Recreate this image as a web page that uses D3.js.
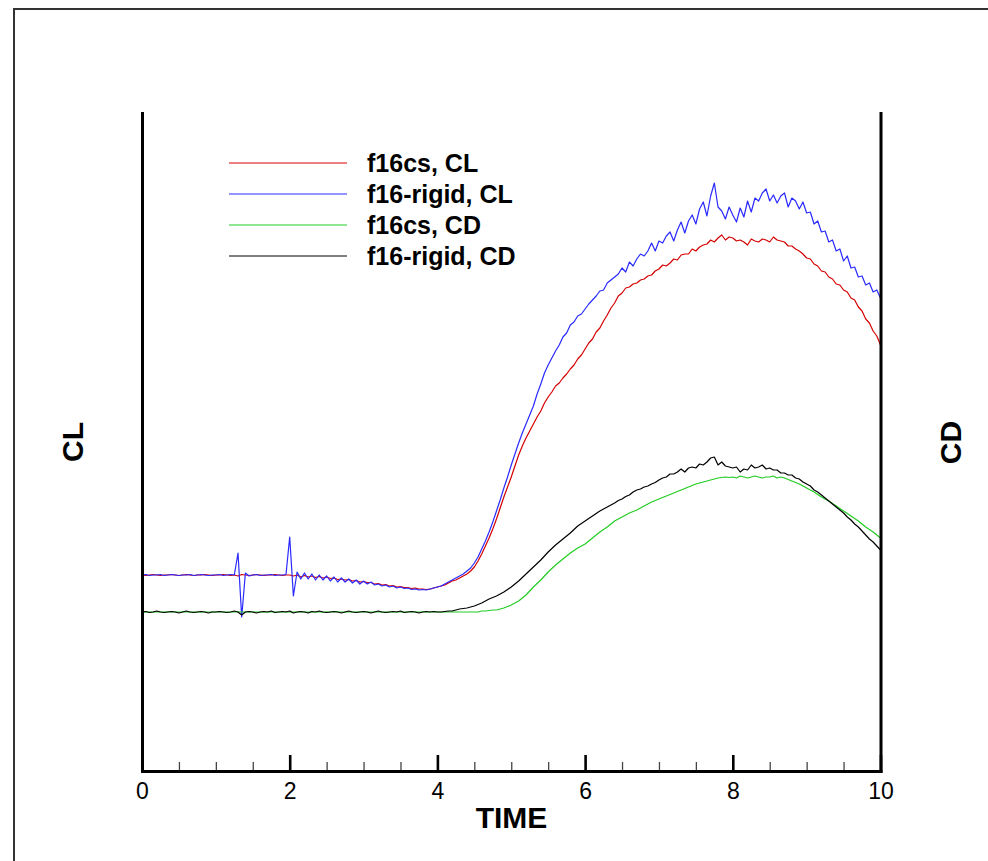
<!DOCTYPE html>
<html><head><meta charset="utf-8">
<script src="https://cdn.jsdelivr.net/npm/d3@7"></script>
<style>
body{margin:0;background:#fff}
svg{display:block}
text{font-family:"Liberation Sans",Arial,Helvetica,sans-serif}
</style>
</head><body>
<svg id="c" width="988" height="861"></svg>
<script>
// ---- data ----
const time = d3.range(201).map(i => +(i * 0.05).toFixed(2)); // TIME samples 0 .. 10
const xMajorTicks = [0, 2, 4, 6, 8, 10];
const xMinorTicks = [0.5, 1, 1.5, 2.5, 3, 3.5, 4.5, 5, 5.5, 6.5, 7, 7.5, 8.5, 9, 9.5];
const seriesNames = ["f16cs, CL", "f16-rigid, CL", "f16cs, CD", "f16-rigid, CD"];

const f16csCL = [
  0.392,0.391,0.392,0.393,0.392,0.391,0.392,0.392,0.393,0.392, 0.391,0.392,0.393,0.392,0.391,0.392,0.392,0.393,0.392,0.391,
  0.392,0.392,0.393,0.392,0.391,0.392,0.390,0.393,0.392,0.391, 0.392,0.393,0.392,0.391,0.392,0.392,0.393,0.392,0.391,0.392,
  0.392,0.390,0.392,0.388,0.391,0.388,0.390,0.387,0.389,0.386, 0.388,0.385,0.386,0.383,0.384,0.382,0.383,0.380,0.381,0.378,
  0.379,0.377,0.377,0.374,0.375,0.372,0.373,0.370,0.371,0.368, 0.369,0.367,0.367,0.365,0.366,0.364,0.364,0.363,0.364,0.366,
  0.368,0.370,0.372,0.376,0.380,0.382,0.386,0.390,0.394,0.400, 0.408,0.420,0.434,0.450,0.466,0.484,0.504,0.526,0.548,0.568,
  0.588,0.610,0.632,0.650,0.666,0.680,0.694,0.708,0.720,0.736, 0.748,0.758,0.770,0.776,0.786,0.794,0.804,0.812,0.824,0.832,
  0.844,0.856,0.864,0.878,0.886,0.900,0.912,0.926,0.936,0.950, 0.956,0.966,0.968,0.974,0.976,0.982,0.984,0.990,0.992,1.000,
  1.004,1.012,1.010,1.016,1.024,1.022,1.032,1.034,1.034,1.044, 1.040,1.048,1.052,1.054,1.062,1.058,1.066,1.072,1.062,1.068,
  1.066,1.060,1.062,1.058,1.052,1.064,1.060,1.058,1.064,1.062, 1.058,1.068,1.062,1.060,1.058,1.050,1.050,1.044,1.040,1.034,
  1.026,1.024,1.014,1.010,1.000,0.998,0.988,0.984,0.974,0.972, 0.962,0.958,0.946,0.942,0.928,0.920,0.904,0.896,0.880,0.870,
  0.852
];
const f16rigidCL = [
  0.392,0.393,0.391,0.392,0.392,0.393,0.391,0.392,0.393,0.392, 0.391,0.392,0.392,0.393,0.391,0.392,0.393,0.392,0.391,0.392,
  0.392,0.393,0.391,0.392,0.393,0.392,0.436,0.308,0.396,0.390, 0.392,0.393,0.391,0.392,0.392,0.393,0.391,0.392,0.392,0.393,
  0.468,0.350,0.398,0.384,0.396,0.384,0.394,0.382,0.392,0.382, 0.390,0.380,0.388,0.378,0.386,0.378,0.384,0.376,0.382,0.374,
  0.380,0.374,0.378,0.372,0.374,0.370,0.372,0.368,0.370,0.366, 0.368,0.365,0.366,0.363,0.364,0.362,0.363,0.362,0.364,0.366,
  0.368,0.370,0.374,0.378,0.382,0.386,0.390,0.394,0.400,0.406, 0.416,0.428,0.444,0.460,0.478,0.498,0.520,0.542,0.566,0.588,
  0.612,0.634,0.656,0.676,0.694,0.712,0.730,0.754,0.774,0.796, 0.812,0.826,0.840,0.852,0.868,0.876,0.892,0.898,0.910,0.914,
  0.924,0.934,0.942,0.950,0.960,0.962,0.976,0.982,0.988,0.994, 1.006,0.998,1.018,1.010,1.024,1.034,1.030,1.040,1.056,1.040,
  1.060,1.056,1.070,1.078,1.060,1.082,1.098,1.076,1.100,1.112, 1.094,1.124,1.138,1.110,1.150,1.176,1.128,1.120,1.104,1.128,
  1.112,1.098,1.126,1.108,1.140,1.118,1.146,1.140,1.156,1.164, 1.140,1.152,1.136,1.150,1.156,1.128,1.146,1.140,1.124,1.138,
  1.116,1.118,1.094,1.100,1.078,1.080,1.058,1.062,1.040,1.044, 1.020,1.030,1.006,1.008,0.988,0.990,0.972,0.976,0.958,0.962,
  0.946
];
const f16csCD = [
  0.159,0.159,0.159,0.159,0.159,0.159,0.159,0.159,0.159,0.159, 0.159,0.159,0.159,0.159,0.159,0.159,0.159,0.159,0.159,0.159,
  0.159,0.159,0.159,0.159,0.159,0.159,0.159,0.159,0.159,0.159, 0.159,0.159,0.159,0.159,0.159,0.159,0.159,0.159,0.159,0.159,
  0.159,0.159,0.159,0.159,0.159,0.159,0.159,0.159,0.159,0.159, 0.159,0.159,0.159,0.159,0.159,0.159,0.159,0.159,0.159,0.159,
  0.159,0.159,0.159,0.159,0.159,0.159,0.159,0.159,0.159,0.159, 0.159,0.159,0.159,0.159,0.159,0.159,0.159,0.159,0.159,0.159,
  0.159,0.159,0.159,0.159,0.159,0.159,0.159,0.159,0.159,0.159, 0.159,0.159,0.160,0.160,0.1605,0.161,0.161,0.162,0.163,0.1645,
  0.166,0.168,0.170,0.173,0.176,0.180,0.184,0.1875,0.191,0.195, 0.199,0.2025,0.206,0.209,0.212,0.215,0.218,0.2205,0.223,0.225,
  0.227,0.230,0.233,0.236,0.239,0.2415,0.244,0.247,0.250,0.252, 0.254,0.256,0.258,0.2595,0.261,0.263,0.265,0.267,0.269,0.2705,
  0.272,0.2735,0.275,0.2765,0.278,0.2795,0.281,0.2825,0.284,0.2855, 0.287,0.288,0.289,0.290,0.291,0.292,0.293,0.2935,0.294,0.2935,
  0.294,0.293,0.295,0.294,0.293,0.294,0.295,0.294,0.293,0.294, 0.294,0.295,0.293,0.294,0.293,0.2915,0.290,0.2885,0.287,0.285,
  0.283,0.281,0.279,0.2765,0.274,0.272,0.270,0.2675,0.265,0.2625, 0.260,0.2575,0.255,0.2525,0.250,0.247,0.244,0.2415,0.239,0.236,
  0.233
];
const f16rigidCD = [
  0.159,0.1595,0.1585,0.159,0.160,0.159,0.1585,0.159,0.1595,0.159, 0.158,0.159,0.160,0.159,0.1585,0.159,0.1595,0.159,0.158,0.159,
  0.159,0.1595,0.159,0.1585,0.159,0.160,0.159,0.156,0.159,0.1595, 0.159,0.158,0.159,0.1595,0.159,0.160,0.1585,0.159,0.1595,0.159,
  0.160,0.158,0.159,0.1595,0.159,0.158,0.1595,0.159,0.160,0.159, 0.1585,0.159,0.1595,0.159,0.158,0.159,0.160,0.159,0.1585,0.159,
  0.1595,0.159,0.158,0.159,0.160,0.159,0.1585,0.159,0.1595,0.159, 0.160,0.1585,0.159,0.1595,0.159,0.158,0.159,0.1595,0.159,0.1595,
  0.159,0.159,0.1595,0.160,0.160,0.161,0.162,0.1625,0.163,0.164, 0.165,0.1665,0.168,0.170,0.172,0.1735,0.175,0.177,0.179,0.1815,
  0.184,0.187,0.190,0.1935,0.197,0.2005,0.204,0.2075,0.211,0.215, 0.219,0.2225,0.226,0.229,0.232,0.235,0.238,0.2415,0.245,0.2475,
  0.250,0.2525,0.255,0.2575,0.260,0.262,0.264,0.266,0.268,0.2705, 0.272,0.2745,0.276,0.279,0.281,0.282,0.284,0.285,0.287,0.2885,
  0.291,0.293,0.294,0.297,0.297,0.299,0.302,0.299,0.303,0.304, 0.303,0.307,0.306,0.309,0.313,0.314,0.306,0.309,0.305,0.304,
  0.303,0.304,0.299,0.302,0.301,0.306,0.303,0.304,0.306,0.302, 0.303,0.301,0.301,0.298,0.298,0.296,0.296,0.293,0.292,0.289,
  0.287,0.285,0.281,0.279,0.276,0.273,0.270,0.267,0.264,0.261, 0.258,0.254,0.251,0.247,0.244,0.240,0.236,0.232,0.229,0.225,
  0.221
];

// ---- drawing ----
const svg = d3.select("#c");
const colors = ["#d40000", "#2a2aff", "#22cc22", "#000000"];

// outer frame
svg.append("rect").attr("x", 14).attr("y", 9).attr("width", 1000).attr("height", 900)
  .attr("fill", "none").attr("stroke", "#333").attr("stroke-width", 2);

const x = d3.scaleLinear().domain([0, 10]).range([142, 880.5]);
const yCL = d3.scaleLinear().domain([0, 1.316]).range([771, 113]);
const yCD = d3.scaleLinear().domain([0, 0.658]).range([771, 113]);

const lineCL = d3.line().x((d, i) => x(time[i])).y(d => yCL(d));
const lineCD = d3.line().x((d, i) => x(time[i])).y(d => yCD(d));

const series = [
  {vals: f16csCL, gen: lineCL},
  {vals: f16rigidCL, gen: lineCL},
  {vals: f16csCD, gen: lineCD},
  {vals: f16rigidCD, gen: lineCD}
];
series.forEach((s, k) => {
  svg.append("path").attr("d", s.gen(s.vals)).attr("fill", "none")
    .attr("stroke", colors[k]).attr("stroke-width", 1.2).attr("stroke-linejoin", "round");
});

// axes
const gMinor = svg.append("g").attr("transform", "translate(0,771)")
  .call(d3.axisBottom(x).tickValues(xMinorTicks).tickSize(-9).tickSizeOuter(0).tickFormat(""));
gMinor.select(".domain").remove();
gMinor.selectAll(".tick line").attr("stroke", "#444").attr("stroke-width", 1.3);

const gX = svg.append("g").attr("transform", "translate(0,771)")
  .call(d3.axisBottom(x).tickValues(xMajorTicks).tickSize(-16).tickSizeOuter(0).tickPadding(12).tickFormat(d3.format("d")));
gX.select(".domain").attr("stroke", "#000").attr("stroke-width", 3).attr("stroke-linecap", "square");
gX.selectAll(".tick line").attr("stroke", "#000").attr("stroke-width", 2.6);
gX.selectAll(".tick text").attr("font-size", 23).attr("fill", "#000")
  .attr("font-family", '"Liberation Sans", Arial, sans-serif');

const gL = svg.append("g").attr("transform", "translate(142,0)")
  .call(d3.axisLeft(yCL).tickValues([]).tickSizeOuter(0));
gL.select(".domain").attr("stroke", "#000").attr("stroke-width", 3).attr("stroke-linecap", "square");
const gR = svg.append("g").attr("transform", "translate(880.5,0)")
  .call(d3.axisRight(yCD).tickValues([]).tickSizeOuter(0));
gR.select(".domain").attr("stroke", "#000").attr("stroke-width", 3).attr("stroke-linecap", "square");

// axis titles
svg.append("text").attr("x", 511.5).attr("y", 828).attr("text-anchor", "middle")
  .attr("font-size", 30).attr("font-weight", "bold").text("TIME");
svg.append("text").attr("transform", "translate(72.5,442) rotate(-90)").attr("dy", "0.35em")
  .attr("text-anchor", "middle").attr("font-size", 30).attr("font-weight", "bold").text("CL");
svg.append("text").attr("transform", "translate(950,442.5) rotate(-90)").attr("dy", "0.35em")
  .attr("text-anchor", "middle").attr("font-size", 30).attr("font-weight", "bold").text("CD");

// legend
const legendY = d3.scalePoint().domain(seriesNames).range([163, 256]);
const lg = svg.append("g");
seriesNames.forEach((n, k) => {
  const yy = legendY(n);
  lg.append("line").attr("x1", 229).attr("x2", 347).attr("y1", yy).attr("y2", yy)
    .attr("stroke", colors[k]).attr("stroke-width", 1);
  lg.append("text").attr("x", 367).attr("y", yy).attr("dy", "0.35em")
    .attr("font-size", 25).attr("font-weight", "bold").text(n);
});
</script>
</body></html>
